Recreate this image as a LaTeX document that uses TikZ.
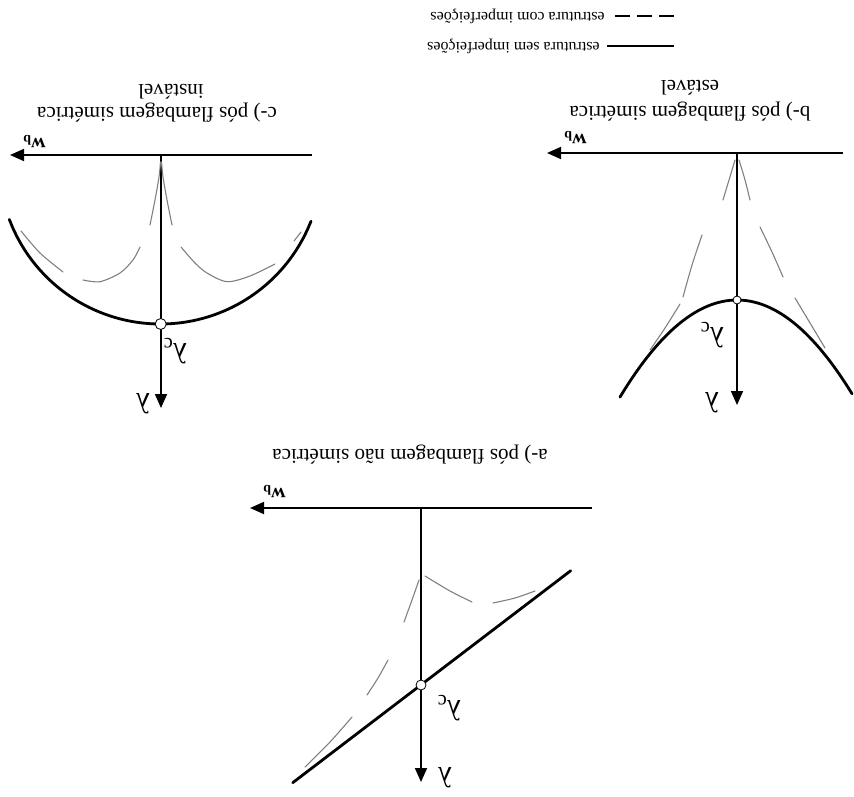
\documentclass[tikz,border=0pt]{standalone}
\usepackage{fontspec}
\setmainfont{Liberation Serif}
\usetikzlibrary{arrows.meta}
\begin{document}
\begin{tikzpicture}[x=0.5pt,y=-0.5pt,
  axis/.style={line width=0.9pt,-{Triangle[length=7pt,width=6pt]}},
  perfect/.style={line width=1.4pt,line cap=round},
  imp/.style={line width=0.55pt,black!50,line cap=round},
  dotnode/.style={circle,draw,line width=0.4pt,fill=white,inner sep=0pt,minimum size=5pt},
  captxt/.style={inner sep=0pt,font=\fontsize{10.5}{12}\selectfont,rotate=180},
  legtxt/.style={inner sep=0pt,font=\fontsize{8}{10}\selectfont,rotate=180,anchor=west},
  lamtxt/.style={inner sep=0pt,font=\fontsize{14.5}{16}\selectfont,rotate=180},
  wtxt/.style={inner sep=0pt,font=\fontsize{10}{12}\selectfont,rotate=180},
  legdash/.style={line width=0.7pt,dash pattern=on 7.5pt off 3.5pt},
  legsolid/.style={line width=0.7pt}]
\useasboundingbox (0,0) rectangle (854,796);

% ---------- legend ----------
\coordinate (l1a) at (674,16); \coordinate (l1b) at (614,16);
\draw[legdash] (l1a) -- (l1b);
\node[legtxt] (l1t) at (605,16) {estrutura com imperfeições};
\coordinate (l2a) at (674,46); \coordinate (l2b) at (607,46);
\draw[legsolid] (l2a) -- (l2b);
\node[legtxt] (l2t) at (600,46) {estrutura sem imperfeições};

% ---------- diagram a ----------
\coordinate (aO) at (421,508);
\coordinate (aXe) at (592,508);
\coordinate (aX) at (250,508);
\coordinate (aY) at (421,782);
\draw[axis] (aXe) -- (aX);
\draw[axis] (aO) -- (aY);
\coordinate (aL1) at (292.7,782.7);
\coordinate (aL2) at (570.7,570.7);
\draw[perfect] (aL1) -- (aL2);
\draw[imp] plot[smooth] coordinates {(419,580) (412,600) (404,622)};
\draw[imp] plot[smooth] coordinates {(388,660) (378,678) (367,695)};
\draw[imp] plot[smooth] coordinates {(352,717) (330,742) (305,767)};
\draw[imp] plot[smooth] coordinates {(425,576) (450,591) (472,602)};
\draw[imp] plot[smooth] coordinates {(493,603) (515,598) (535,591)};
\node[dotnode] (aC) at (421,685) {};
\node[lamtxt] (aLam) at (445,778) {λ};
\node[lamtxt] (aLamc) at (449,708) {λ\textsubscript{c}};
\node[wtxt] (aW) at (274,492) {\textbf{w}\textsubscript{\textbf{b}}};
\node[captxt] (capa) at (410,455) {a-) pós flambagem não simétrica};

% ---------- diagram b ----------
\coordinate (bO) at (737,153);
\coordinate (bXe) at (843,153);
\coordinate (bX) at (547,153);
\coordinate (bY) at (737,405);
\draw[axis] (bXe) -- (bX);
\draw[axis] (bO) -- (bY);
\draw[perfect] plot[domain=620:852,samples=60] (\x,{300+70.9*((\x-737)/100)*((\x-737)/100)});
\draw[imp] plot[smooth] coordinates {(735,160) (729,180) (723,200)};
\draw[imp] plot[smooth] coordinates {(702,235) (692,265) (683,297)};
\draw[imp] plot[smooth] coordinates {(680,304) (665,328) (650,350)};
\draw[imp] plot[smooth] coordinates {(739,160) (745,180) (750,200)};
\draw[imp] plot[smooth] coordinates {(760,227) (772,252) (783,277)};
\draw[imp] plot[smooth] coordinates {(795,298) (810,323) (825,348)};
\node[dotnode,minimum size=4pt] (bC) at (737,300) {};
\node[lamtxt] (bLam) at (712,403) {λ};
\node[lamtxt] (bLamc) at (712,335) {λ\textsubscript{c}};
\node[wtxt] (bW) at (575,138) {\textbf{w}\textsubscript{\textbf{b}}};
\node[captxt] (capb1) at (690,112) {b-) pós flambagem simétrica};
\node[captxt] (capb2) at (690,88) {estável};

% ---------- diagram c ----------
\coordinate (cO) at (161,155);
\coordinate (cXe) at (312,155);
\coordinate (cX) at (10,155);
\coordinate (cY) at (161,408);
\draw[axis] (cXe) -- (cX);
\draw[axis] (cO) -- (cY);
\draw[perfect] plot[domain=9.3:311,samples=80] (\x,{162.4+10*sqrt(261.15-((\x-160.5)/10)*((\x-160.5)/10))});
\draw[imp] plot[smooth] coordinates {(21,231) (40,253) (63,272)};
\draw[imp] plot[smooth] coordinates {(83,280) (100,281.7) (120,273) (133,260) (140,247)};
\draw[imp] plot[smooth] coordinates {(150,225) (155,200) (159,177) (160.5,162)};
\draw[imp] plot[smooth] coordinates {(161.5,162) (163,177) (167,200) (172,225)};
\draw[imp] plot[smooth] coordinates {(181,247) (195,263) (207,273) (227,281.7) (250,276) (275,264)};
\draw[imp] plot[smooth] coordinates {(294,241) (301,232)};
\node[dotnode,minimum size=5.5pt] (cC) at (160.7,324) {};
\node[lamtxt] (cLam) at (143,404) {λ};
\node[lamtxt] (cLamc) at (175,351) {λ\textsubscript{c}};
\node[wtxt] (cW) at (34,142) {\textbf{w}\textsubscript{\textbf{b}}};
\node[captxt] (capc1) at (157,113) {c-) pós flambagem simétrica};
\node[captxt] (capc2) at (171,92) {instável};
\end{tikzpicture}
\end{document}
